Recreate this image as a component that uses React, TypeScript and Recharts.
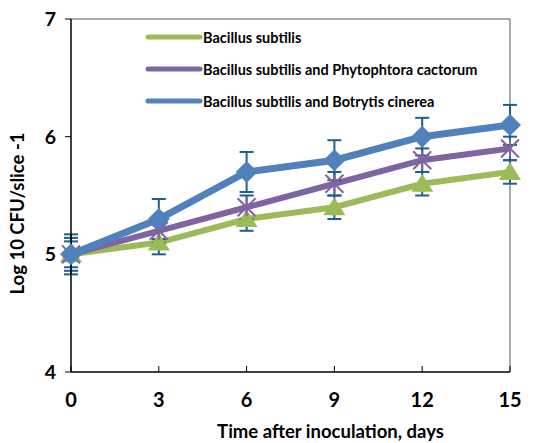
import React from "react";
import {
  ErrorBar,
  Line,
  LineChart,
  ReferenceLine,
  XAxis,
  YAxis,
} from "recharts";

const days = [0, 3, 6, 9, 12, 15];
const subtilis = [5.0, 5.1, 5.3, 5.4, 5.6, 5.7];
const subtilisErr = [0.11, 0.1, 0.1, 0.1, 0.1, 0.1];
const phytophtora = [5.0, 5.2, 5.4, 5.6, 5.8, 5.9];
const phytophtoraErr = [0.14, 0.1, 0.1, 0.1, 0.1, 0.1];
const botrytis = [5.0, 5.3, 5.7, 5.8, 6.0, 6.1];
const botrytisErr = [0.17, 0.17, 0.17, 0.17, 0.16, 0.17];
const yTicks = [4, 5, 6, 7];
const seriesNames = [
  "Bacillus subtilis",
  "Bacillus subtilis and Phytophtora cactorum",
  "Bacillus subtilis and Botrytis cinerea",
];

const data = days.map((d, i) => ({
  day: d,
  bs: subtilis[i],
  bsErr: subtilisErr[i],
  pc: phytophtora[i],
  pcErr: phytophtoraErr[i],
  bc: botrytis[i],
  bcErr: botrytisErr[i],
}));

const GREEN = "#9bbb59";
const PURPLE = "#8064a2";
const BLUE = "#4f81bd";
const ERR = "#1f5f8b";
const COLORS = [GREEN, PURPLE, BLUE];
const FONT = "Lato, 'Open Sans', sans-serif";

const Triangle = ({ cx, cy }: any) => (
  <path d={`M${cx},${cy - 10} L${cx + 11},${cy + 8} L${cx - 11},${cy + 8} Z`} fill={GREEN} />
);

const Star = ({ cx, cy }: any) => (
  <g stroke={PURPLE} strokeWidth={2}>
    <line x1={cx - 9} y1={cy - 9} x2={cx + 9} y2={cy + 9} />
    <line x1={cx - 9} y1={cy + 9} x2={cx + 9} y2={cy - 9} />
    <line x1={cx} y1={cy - 9} x2={cx} y2={cy + 9} />
  </g>
);

const Diamond = ({ cx, cy }: any) => (
  <path d={`M${cx},${cy - 11} L${cx + 11},${cy} L${cx},${cy + 11} L${cx - 11},${cy} Z`} fill={BLUE} />
);

const XTick = ({ x, y, payload }: any) => (
  <g>
    <line x1={x} x2={x} y1={y} y2={y - 6} stroke="#000" />
    <text x={x} y={y + 35} textAnchor="middle" fontFamily={FONT} fontWeight={700} fontSize={20} fill="#000">
      {payload.value}
    </text>
  </g>
);

const YTick = ({ x, y, payload }: any) => (
  <text x={x} y={y + 7} textAnchor="end" fontFamily={FONT} fontWeight={700} fontSize={19.5} fill="#000">
    {payload.value}
  </text>
);

export default function App() {
  return (
    <div style={{ position: "absolute", left: 0, top: 0, width: 544, height: 443, background: "#fff" }}>
      <LineChart width={544} height={443} data={data} margin={{ top: 19, right: 34, left: 0, bottom: 0 }}>
        <ReferenceLine y={7} stroke="#8c8c8c" strokeWidth={1.5} />
        <ReferenceLine x={15} stroke="#8c8c8c" strokeWidth={1.5} />
        <XAxis
          dataKey="day"
          type="number"
          domain={[0, 15]}
          ticks={days}
          height={71}
          tickSize={0}
          tickMargin={0}
          tickLine={false}
          axisLine={{ stroke: "#000", strokeWidth: 1.5 }}
          tick={<XTick />}
          label={{
            value: "Time after inoculation, days",
            position: "insideBottom",
            offset: 5,
            dx: 40,
            style: { fontFamily: FONT, fontWeight: 700, fontSize: 18.5, fill: "#000" },
          }}
        />
        <YAxis
          type="number"
          domain={[4, 7]}
          ticks={yTicks}
          width={71}
          tickSize={6}
          tickMargin={9}
          tickLine={{ stroke: "#000" }}
          axisLine={{ stroke: "#000", strokeWidth: 1.5 }}
          tick={<YTick />}
          label={{
            value: "Log 10 CFU/slice -1",
            angle: -90,
            position: "insideLeft",
            offset: 17,
            dy: 18,
            style: { fontFamily: FONT, fontWeight: 700, fontSize: 18.5, fill: "#000", textAnchor: "middle" },
          }}
        />
        <Line
          type="linear"
          dataKey="bs"
          name={seriesNames[0]}
          stroke={GREEN}
          strokeWidth={6}
          dot={<Triangle />}
          activeDot={false}
          isAnimationActive={false}
        >
          <ErrorBar dataKey="bsErr" direction="y" width={7} stroke={ERR} strokeWidth={2} />
        </Line>
        <Line
          type="linear"
          dataKey="pc"
          name={seriesNames[1]}
          stroke={PURPLE}
          strokeWidth={6}
          dot={<Star />}
          activeDot={false}
          isAnimationActive={false}
        >
          <ErrorBar dataKey="pcErr" direction="y" width={7} stroke={ERR} strokeWidth={2} />
        </Line>
        <Line
          type="linear"
          dataKey="bc"
          name={seriesNames[2]}
          stroke={BLUE}
          strokeWidth={7}
          dot={<Diamond />}
          activeDot={false}
          isAnimationActive={false}
        >
          <ErrorBar dataKey="bcErr" direction="y" width={7} stroke={ERR} strokeWidth={2} />
        </Line>
      </LineChart>
      <div
        style={{
          position: "absolute",
          left: 145,
          top: 21,
          fontFamily: FONT,
          fontWeight: 700,
          fontSize: 14.5,
        }}
      >
        {seriesNames.map((name, i) => (
          <div key={name} style={{ display: "flex", alignItems: "center", height: 32, whiteSpace: "nowrap" }}>
            <svg width={58} height={10}>
              <line x1={3} x2={55} y1={5} y2={5} stroke={COLORS[i]} strokeWidth={5} strokeLinecap="round" />
            </svg>
            <span>{name}</span>
          </div>
        ))}
      </div>
    </div>
  );
}
